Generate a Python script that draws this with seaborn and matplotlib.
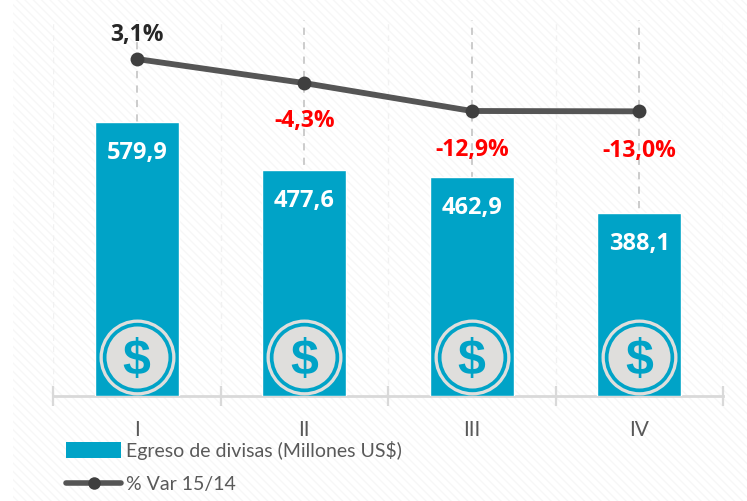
import matplotlib
matplotlib.use("Agg")
import matplotlib.pyplot as plt
from matplotlib.lines import Line2D
from matplotlib.patches import Patch
import pandas as pd
import seaborn as sns

# Data
trimestres = ["I", "II", "III", "IV"]
egreso = [579.9, 477.6, 462.9, 388.1]
variacion = [3.1, -4.3, -12.9, -13.0]

BLUE = "#00a3c7"
DARK = "#555555"
W, H = 747, 501

sns.set_theme(style="white", rc={"font.family": ["Lato", "DejaVu Sans"]})

df = pd.DataFrame({"trim": trimestres, "egreso": egreso, "var": variacion})

fig = plt.figure(figsize=(W / 100, H / 100), dpi=100)
ax = fig.add_axes([53 / W, 1 - 396 / H, 670 / W, 376 / H])
ax.set_zorder(1)
ax.patch.set_visible(False)

# faint diagonal background
bg = fig.add_axes([13 / W, 0, 1 - 13 / W, 1], zorder=0)
bg.set_axis_off()
bg.add_patch(plt.Rectangle((0, 0), 1, 1, transform=bg.transAxes, facecolor="white",
                           edgecolor="#f7f7f7", hatch="\\\\\\\\", linewidth=0))

sns.barplot(data=df, x="trim", y="egreso", color=BLUE, saturation=1, width=0.5,
            ax=ax, zorder=3)
ax.set_xlim(-0.5, 3.5)
ax.set_ylim(0, 376 / 0.4725)
ax.set_xlabel("")
ax.set_ylabel("")
ax.set_yticks([])

ax.set_xticks([0.0, 1.0, 2.0, 3.0], trimestres)
ax.set_xticks([-0.5, 0.5, 1.5, 2.5, 3.5], minor=True)
ax.tick_params(axis="x", which="major", length=0, pad=17, labelsize=15, labelcolor="#595959")
ax.tick_params(axis="x", which="minor", length=15, width=1.6, direction="inout",
               color="#d9d9d9", bottom=True)
ax.xaxis.grid(True, which="major", linestyle=(0, (4, 4)), color="#c8c8c8", linewidth=1.3)
ax.xaxis.grid(True, which="minor", linestyle=(0, (4, 4)), color="#f1f1f1", linewidth=1)
ax.set_axisbelow(True)
for side in ["top", "right", "left"]:
    ax.spines[side].set_visible(False)
ax.spines["bottom"].set_color("#d9d9d9")
ax.spines["bottom"].set_linewidth(2)

# coins sitting at the foot of each bar
coin_y = [(396 - 356.5) / 0.4725] * len(trimestres)
px = 72 / 100
for r, c, z in [(38, "#dfdedc", 4), (34.7, BLUE, 5), (31, "#dfdedc", 6)]:
    ax.scatter(range(len(trimestres)), coin_y, s=(2 * r * px) ** 2, color=c,
               linewidth=0, zorder=z, clip_on=False)
for i, y in enumerate(coin_y):
    ax.text(i, y, "$", color=BLUE, fontsize=36, fontweight="bold", family="Liberation Sans",
            ha="center", va="center_baseline", zorder=7)

for i, v in enumerate(egreso):
    ax.annotate(f"{v:.1f}".replace(".", ","), (i, v), xytext=(0, -31 * px), textcoords="offset points",
                ha="center", va="center", color="white", fontsize=17, fontweight="bold",
                family="Open Sans", zorder=8)

# % variation on its own axis
ax2 = ax.twinx()
ax2.set_zorder(2)
ax2.patch.set_visible(False)
sns.lineplot(data=df, x="trim", y="var", color=DARK, linewidth=4.2, marker="o", markersize=10,
             markerfacecolor="#3f3f3f", markeredgewidth=0, ax=ax2, sort=False)
ax2.set_ylim(3.1 - (396 - 59) / 3.25, 3.1 + (59 - 20) / 3.25)
ax2.set_xlim(-0.5, 3.5)
ax2.set_axis_off()

offsets = [-24, 38, 39, 40]
for i, v in enumerate(variacion):
    ax2.annotate(f"{v:.1f}%".replace(".", ","), (i, v), xytext=(0, -offsets[i] * px),
                 textcoords="offset points", ha="center", va="center", fontsize=16.5, fontweight="bold",
                 family="Open Sans", color="#262626" if v > 0 else "#ff0000")

handles = [Patch(facecolor=BLUE, edgecolor="none"),
           Line2D([], [], color=DARK, linewidth=4, marker="o", markersize=9,
                  markerfacecolor="#3f3f3f", markeredgewidth=0, solid_capstyle="round")]
fig.legend(handles, ["Egreso de divisas (Millones US$)", "% Var 15/14"],
           loc="upper left", bbox_to_anchor=(66 / W, 1 - 441 / H), frameon=False, fontsize=14,
           labelcolor="#595959", handlelength=2.85, handleheight=0.9, handletextpad=0.25,
           labelspacing=0.8, borderpad=0, borderaxespad=0)

fig.savefig("out.png", dpi=100)
